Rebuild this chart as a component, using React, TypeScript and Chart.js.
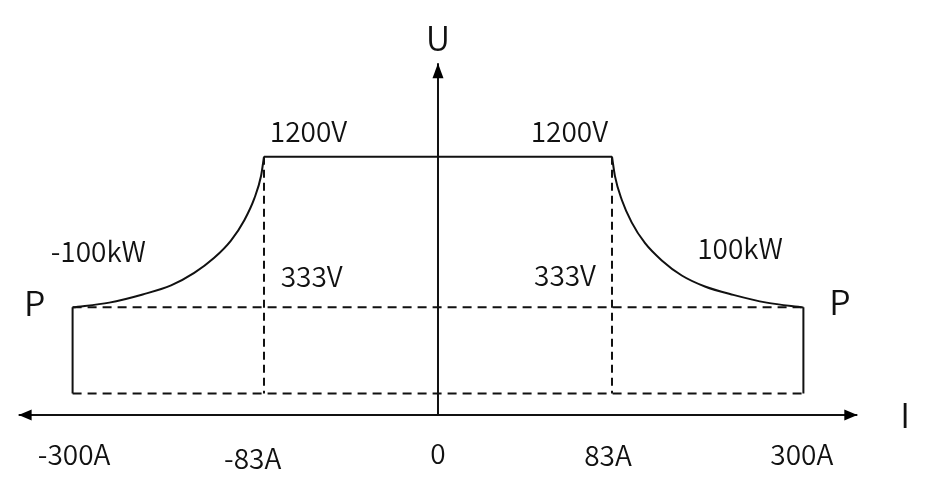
import React, { useEffect, useRef } from "react";
import { Chart, registerables } from "chart.js";

Chart.register(...registerables);

// ---- schematic data (axis units, the drawing is not to scale) ----
// current marks: -300A, -83A, 0, 83A, 300A
const currentPos = [-2.1, -1, 0, 1, 2.1];
const currentLabels = ["-300A", "-83A", "0", "83A", "300A"];

// voltage levels: 1200V (max), P-level, min level
const uMax = 12;
const uP = 5;
const uMin = 1;

// constant-power curves (±100kW)
const rightCurveX = [1.0, 1.017, 1.056, 1.113, 1.19, 1.286, 1.401, 1.534, 1.697, 1.889, 2.1];
const rightCurveY = [12.0, 11.1, 10.0, 8.95, 7.98, 7.18, 6.48, 5.97, 5.58, 5.22, 5.0];
const leftCurveX = [-2.1, -1.889, -1.697, -1.534, -1.401, -1.286, -1.19, -1.113, -1.056, -1.017, -1.0];
const leftCurveY = [5.0, 5.22, 5.6, 6.02, 6.6, 7.3, 8.1, 9.05, 10.05, 11.1, 12.0];

// axes extents
const axisIEnd = 2.41;
const axisUEnd = 16.34;

// annotations
const noteTexts = ["U", "I", "P", "P", "1200V", "1200V", "-100kW", "100kW", "333V", "333V"];
const noteX = [0, 2.684, -2.318, 2.31, -0.744, 0.755, -1.952, 1.736, -0.726, 0.73];
const noteY = [17.51, -0.02, 5.19, 5.25, 13.16, 13.19, 7.62, 7.74, 6.44, 6.5];
const tickLabelY = [-1.81, -2.0, -1.78, -1.86, -1.81];
const tickLabelX = [-2.091, -1.065, 0, 0.977, 2.091];

const X_MIN = -2.5172;
const X_MAX = 2.8391;
const Y_MIN = -3.5308;
const Y_MAX = 19.2799;

const FONT = '"Noto Sans CJK SC", "Noto Sans", sans-serif';
const INK = "#111";

const pts = (xs: number[], ys: number[]) => xs.map((x, i) => ({ x, y: ys[i] }));

const seg = (data: { x: number; y: number }[], dashed: boolean, width = 2) => ({
  data,
  showLine: true,
  borderColor: INK,
  borderWidth: width,
  borderDash: dashed ? [9, 6] : [],
  pointRadius: 0,
  fill: false,
  clip: false as any,
});

const overlayPlugin = {
  id: "overlay",
  afterDatasetsDraw(chart: any) {
    const { ctx } = chart;
    const sx = chart.scales.x;
    const sy = chart.scales.y;
    const px = (v: number) => sx.getPixelForValue(v);
    const py = (v: number) => sy.getPixelForValue(v);
    ctx.save();
    ctx.fillStyle = "#000";
    // arrow heads
    const tri = (a: number[], b: number[], c: number[]) => {
      ctx.beginPath();
      ctx.moveTo(a[0], a[1]);
      ctx.lineTo(b[0], b[1]);
      ctx.lineTo(c[0], c[1]);
      ctx.closePath();
      ctx.fill();
    };
    const ax = px(0), ay = py(0);
    const rx = px(axisIEnd), lx = px(-axisIEnd), ty = py(axisUEnd);
    tri([rx, ay], [rx - 13, ay - 5.5], [rx - 13, ay + 5.5]);
    tri([lx, ay], [lx + 13, ay - 5.5], [lx + 13, ay + 5.5]);
    tri([ax, ty], [ax - 5.5, ty + 15], [ax + 5.5, ty + 15]);

    // texts
    ctx.fillStyle = INK;
    ctx.textAlign = "center";
    ctx.textBaseline = "middle";
    noteTexts.forEach((t, i) => {
      const big = t === "U" || t === "I" || t === "P";
      ctx.font = `350 ${big ? 34 : 28}px ${FONT}`;
      ctx.fillText(t, px(noteX[i]), py(noteY[i]));
    });
    ctx.font = `350 28px ${FONT}`;
    currentLabels.forEach((t, i) => {
      ctx.fillText(t, px(tickLabelX[i]), py(tickLabelY[i]));
    });
    ctx.restore();
  },
};

export default function App() {
  const ref = useRef<HTMLCanvasElement | null>(null);
  useEffect(() => {
    document.body.style.margin = "0";
    if (!ref.current) return;
    const [iL, i83L, , i83R, iR] = currentPos;
    const chart = new Chart(ref.current, {
      type: "scatter",
      data: {
        datasets: [
          // axes
          seg([{ x: -axisIEnd, y: 0 }, { x: axisIEnd, y: 0 }], false),
          seg([{ x: 0, y: 0 }, { x: 0, y: axisUEnd }], false),
          // envelope
          seg([{ x: i83L, y: uMax }, { x: i83R, y: uMax }], false),
          { ...seg(pts(leftCurveX, leftCurveY), false), cubicInterpolationMode: "monotone", tension: 0.4 },
          { ...seg(pts(rightCurveX, rightCurveY), false), cubicInterpolationMode: "monotone", tension: 0.4 },
          seg([{ x: iL, y: uP }, { x: iL, y: uMin }], false),
          seg([{ x: iR, y: uP }, { x: iR, y: uMin }], false),
          // dashed guides
          seg([{ x: iL, y: uP }, { x: iR, y: uP }], true),
          seg([{ x: iL, y: uMin }, { x: iR, y: uMin }], true),
          { ...seg([{ x: i83L, y: uMax }, { x: i83L, y: uMin }], true), borderDash: [8, 5] },
          { ...seg([{ x: i83R, y: uMax }, { x: i83R, y: uMin }], true), borderDash: [8, 5] },
        ] as any,
      },
      options: {
        animation: false,
        responsive: false,
        layout: { padding: 0 },
        plugins: { legend: { display: false }, tooltip: { enabled: false } },
        scales: {
          x: { type: "linear", min: X_MIN, max: X_MAX, display: false },
          y: { type: "linear", min: Y_MIN, max: Y_MAX, display: false },
        },
      } as any,
      plugins: [overlayPlugin],
    });
    return () => chart.destroy();
  }, []);
  return (
    <div style={{ width: 932, height: 491, background: "#fff" }}>
      <canvas ref={ref} width={932} height={491} style={{ display: "block" }} />
    </div>
  );
}
